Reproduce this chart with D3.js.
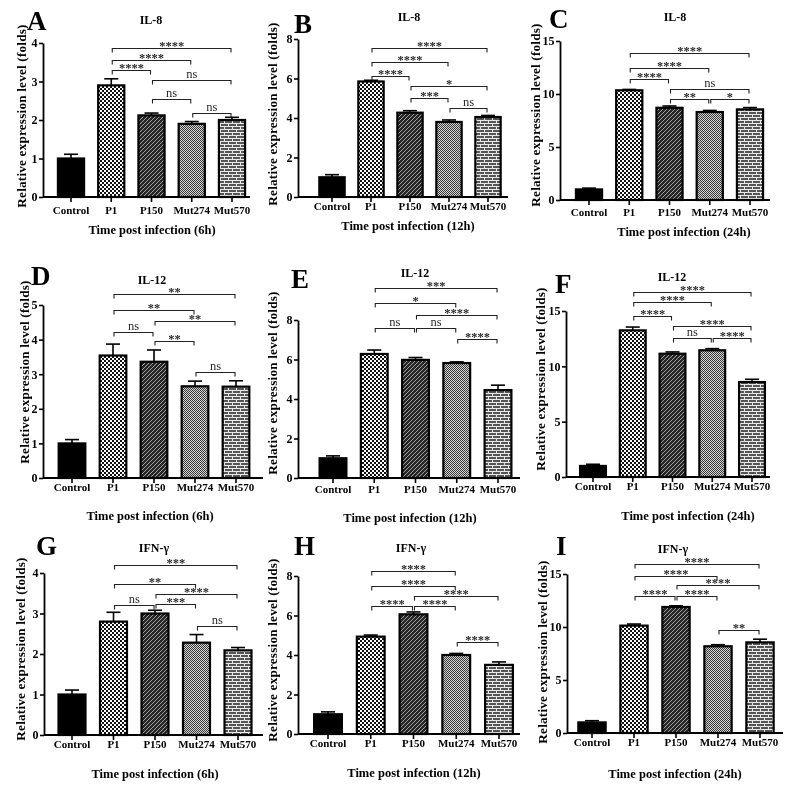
<!DOCTYPE html>
<html><head><meta charset="utf-8">
<script src="https://cdn.jsdelivr.net/npm/d3@7"></script>
<style>
body{margin:0;background:#fff}
svg{display:block;will-change:transform}
text{font-family:"Liberation Serif","Times New Roman",serif;}
</style>
</head><body>
<svg id="c" width="800" height="790"></svg>
<script>
// ---------------- DATA ----------------
const categories = ["Control", "P1", "P150", "Mut274", "Mut570"];
const panelLetters = ["A", "B", "C", "D", "E", "F", "G", "H", "I"];
const panelTitles = ["IL-8", "IL-8", "IL-8", "IL-12", "IL-12", "IL-12", "IFN-γ", "IFN-γ", "IFN-γ"];
const xTitles = ["Time post infection (6h)", "Time post infection (12h)", "Time post infection (24h)",
                 "Time post infection (6h)", "Time post infection (12h)", "Time post infection (24h)",
                 "Time post infection (6h)", "Time post infection (12h)", "Time post infection (24h)"];
const yTitle = "Relative expression level (folds)";

const meanA = [1.0, 2.9, 2.12, 1.9, 2.0];      const errA = [0.11, 0.17, 0.06, 0.06, 0.07];
const meanB = [1.0, 5.85, 4.27, 3.8, 4.05];    const errB = [0.13, 0.06, 0.1, 0.1, 0.08];
const meanC = [1.0, 10.35, 8.7, 8.3, 8.55];    const errC = [0.12, 0.08, 0.17, 0.15, 0.17];
const meanD = [1.0, 3.54, 3.36, 2.65, 2.64];   const errD = [0.11, 0.33, 0.34, 0.15, 0.17];
const meanE = [1.0, 6.28, 5.98, 5.82, 4.45];   const errE = [0.12, 0.2, 0.12, 0.06, 0.25];
const meanF = [1.0, 13.25, 11.14, 11.45, 8.58]; const errF = [0.15, 0.3, 0.16, 0.15, 0.25];
const meanG = [1.0, 2.8, 3.0, 2.28, 2.09];     const errG = [0.11, 0.23, 0.08, 0.2, 0.07];
const meanH = [1.0, 4.93, 6.06, 4.0, 3.5];     const errH = [0.12, 0.08, 0.12, 0.08, 0.15];
const meanI = [1.0, 10.13, 11.89, 8.18, 8.55]; const errI = [0.16, 0.15, 0.11, 0.15, 0.3];

const ticksA = [0, 1, 2, 3, 4];
const ticksB = [0, 2, 4, 6, 8];
const ticksC = [0, 5, 10, 15];
const ticksD = [0, 1, 2, 3, 4, 5];
const ticksE = [0, 2, 4, 6, 8];
const ticksF = [0, 5, 10, 15];
const ticksG = [0, 1, 2, 3, 4];
const ticksH = [0, 2, 4, 6, 8];
const ticksI = [0, 5, 10, 15];

// significance brackets: [from, to, level, label]
const sigA = [["P1","Mut570",3.87,"****"],["P1","Mut274",3.56,"****"],["P1","P150",3.30,"****"],["P150","Mut570",3.04,"ns"],["P150","Mut274",2.55,"ns"],["Mut274","Mut570",2.18,"ns"]];
const sigB = [["P1","Mut570",7.54,"****"],["P1","Mut274",6.84,"****"],["P1","P150",6.13,"****"],["P150","Mut570",5.62,"*"],["P150","Mut274",5.0,"***"],["Mut274","Mut570",4.5,"ns"]];
const sigC = [["P1","Mut570",13.9,"****"],["P1","Mut274",12.5,"****"],["P1","P150",11.4,"****"],["P150","Mut570",10.45,"ns"],["P150","Mut274",9.5,"**"],["Mut274","Mut570",9.5,"*"]];
const sigD = [["P1","Mut570",5.32,"**"],["P1","Mut274",4.86,"**"],["P150","Mut570",4.54,"**"],["P1","P150",4.23,"ns"],["P150","Mut274",3.97,"**"],["Mut274","Mut570",3.05,"ns"]];
const sigE = [["P1","Mut570",9.6,"***"],["P1","Mut274",8.85,"*"],["P150","Mut570",8.25,"****"],["P1","P150",7.6,"ns"],["P150","Mut274",7.6,"ns"],["Mut274","Mut570",7.02,"****"]];
const sigF = [["P1","Mut570",16.7,"****"],["P1","Mut274",15.84,"****"],["P1","P150",14.57,"****"],["P150","Mut570",13.64,"****"],["P150","Mut274",12.53,"ns"],["Mut274","Mut570",12.53,"****"]];
const sigG = [["P1","Mut570",4.19,"***"],["P1","Mut274",3.74,"**"],["P150","Mut570",3.47,"****"],["P1","P150",3.2,"ns"],["P150","Mut274",3.24,"***"],["Mut274","Mut570",2.68,"ns"]];
const sigH = [["P1","Mut274",8.27,"****"],["P1","Mut274",7.51,"****"],["P150","Mut570",7.0,"****"],["P1","P150",6.48,"****"],["P150","Mut274",6.48,"****"],["Mut274","Mut570",4.67,"****"]];
const sigI = [["P1","Mut570",15.94,"****"],["P1","Mut274",14.77,"****"],["P150","Mut570",13.92,"****"],["P1","P150",12.89,"****"],["P150","Mut274",12.89,"****"],["Mut274","Mut570",9.75,"**"]];

const means = [meanA, meanB, meanC, meanD, meanE, meanF, meanG, meanH, meanI];
const errs  = [errA, errB, errC, errD, errE, errF, errG, errH, errI];
const ticks = [ticksA, ticksB, ticksC, ticksD, ticksE, ticksF, ticksG, ticksH, ticksI];
const sigs  = [sigA, sigB, sigC, sigD, sigE, sigF, sigG, sigH, sigI];

// ---------------- LAYOUT ----------------
const layout = [
 {x0:43,x1:250,c0:71,c4:232,y0:197,yT:43,lx:27,ly:30,tx:151,ty:23.5,tickY:214,xtx:152,xty:234,ytx:21,yty:116},
 {x0:298,x1:508,c0:332,c4:488,y0:197,yT:39,lx:294,ly:33,tx:409,ty:21,tickY:209,xtx:408,xty:230,ytx:272,yty:114},
 {x0:560,x1:770,c0:589,c4:750,y0:200,yT:41,lx:549,ly:28,tx:675,ty:21,tickY:216,xtx:684,xty:236,ytx:535,yty:115},
 {x0:43,x1:263,c0:72,c4:236,y0:478,yT:305,lx:31,ly:285,tx:152,ty:284,tickY:491,xtx:150,xty:520,ytx:24,yty:372},
 {x0:298,x1:520,c0:333,c4:498,y0:478,yT:320,lx:291,ly:288,tx:415,ty:277,tickY:493,xtx:410,xty:522,ytx:272,yty:383},
 {x0:566,x1:770,c0:593,c4:752,y0:477,yT:311,lx:555,ly:293,tx:672,ty:281,tickY:490,xtx:688,xty:520,ytx:540,yty:379},
 {x0:44,x1:263,c0:72,c4:238,y0:735,yT:573,lx:36,ly:555,tx:154,ty:552,tickY:746,xtx:155,xty:778,ytx:20,yty:649},
 {x0:298,x1:520,c0:328,c4:499,y0:734,yT:576,lx:294,ly:555,tx:411,ty:552,tickY:744,xtx:414,xty:777,ytx:272,yty:650},
 {x0:567,x1:783,c0:592,c4:760,y0:733,yT:574,lx:556,ly:555,tx:673,ty:553,tickY:743,xtx:675,xty:778,ytx:542,yty:652}
];

// ---------------- DRAW ----------------
const svg = d3.select("#c");
svg.append("rect").attr("width", 800).attr("height", 790).attr("fill", "#fff");
const defs = svg.append("defs");
function pattern(id, w, h, draw) {
  const p = defs.append("pattern").attr("id", id).attr("patternUnits", "userSpaceOnUse")
    .attr("width", w).attr("height", h);
  draw(p);
}
pattern("pP1", 4, 4, p => {
  p.append("rect").attr("width", 4).attr("height", 4).attr("fill", "#fff");
  p.append("rect").attr("width", 2).attr("height", 2).attr("fill", "#111");
  p.append("rect").attr("x", 2).attr("y", 2).attr("width", 2).attr("height", 2).attr("fill", "#111");
});
pattern("pP150", 4, 4, p => {
  p.append("rect").attr("width", 4).attr("height", 4).attr("fill", "#262626");
  p.append("path").attr("d", "M-1,1L1,-1M0,4L4,0M3,5L5,3").attr("stroke", "#a0a0a0").attr("stroke-width", 1);
});
pattern("pM274", 2, 2, p => {
  p.append("rect").attr("width", 2).attr("height", 2).attr("fill", "#d4d4d4");
  p.append("rect").attr("width", 1).attr("height", 1).attr("fill", "#3a3a3a");
  p.append("rect").attr("x", 1).attr("y", 1).attr("width", 1).attr("height", 1).attr("fill", "#3a3a3a");
});
pattern("pM570", 8, 6, p => {
  p.append("rect").attr("width", 8).attr("height", 6).attr("fill", "#555");
  p.append("path").attr("d", "M0,0.5H8M0,3.5H8M0.5,0V3M4.5,3V6").attr("stroke", "#e8e8e8").attr("stroke-width", 1);
});
const fills = ["#000", "url(#pP1)", "url(#pP150)", "url(#pM274)", "url(#pM570)"];

layout.forEach((L, i) => {
  const mean = means[i], err = errs[i], tk = ticks[i], sig = sigs[i];
  const step = (L.c4 - L.c0) / 4;
  const x = d3.scaleBand().domain(categories)
    .range([L.c0 - step / 2, L.c4 + step / 2]).paddingInner(0.35).paddingOuter(0.175);
  const y = d3.scaleLinear().domain([0, tk[tk.length - 1]]).range([L.y0, L.yT]);
  const cx = c => x(c) + x.bandwidth() / 2;
  const g = svg.append("g");

  // error bars
  const eb = g.append("g").attr("stroke", "#000").attr("stroke-width", 1.6);
  categories.forEach((c, j) => {
    eb.append("line").attr("x1", cx(c)).attr("x2", cx(c)).attr("y1", y(mean[j])).attr("y2", y(mean[j] + err[j]));
    eb.append("line").attr("x1", cx(c) - 7).attr("x2", cx(c) + 7).attr("y1", y(mean[j] + err[j])).attr("y2", y(mean[j] + err[j]));
  });

  // bars
  g.selectAll("rect.bar").data(categories).join("rect").attr("class", "bar")
    .attr("x", d => x(d)).attr("width", x.bandwidth())
    .attr("y", (d, j) => y(mean[j])).attr("height", (d, j) => y(0) - y(mean[j]))
    .attr("fill", (d, j) => fills[j]).attr("stroke", "#000").attr("stroke-width", 2.2);

  // y axis
  const ya = g.append("g").attr("transform", `translate(${L.x0},0)`)
    .call(d3.axisLeft(y).tickValues(tk).tickFormat(d3.format("d")).tickSize(4).tickSizeOuter(0).tickPadding(1.5));
  ya.select(".domain").attr("stroke-width", 1.8);
  ya.selectAll(".tick line").attr("stroke-width", 1.6);
  ya.selectAll("text").attr("font-size", 12).attr("font-weight", "bold")
    .attr("font-family", '"Liberation Serif", serif').attr("fill", "#000");

  // x axis
  const xa = g.append("g").attr("transform", `translate(0,${L.y0})`)
    .call(d3.axisBottom(x).tickSize(5).tickSizeOuter(0).tickPadding(Math.max(0, L.tickY - L.y0 - 5 - 7.8)));
  xa.select(".domain").remove();
  xa.append("line").attr("x1", L.x0).attr("x2", L.x1).attr("stroke", "#000").attr("stroke-width", 1.8);
  xa.selectAll(".tick line").attr("stroke-width", 1.6);
  xa.selectAll("text").attr("font-size", 11).attr("font-weight", "bold")
    .attr("font-family", '"Liberation Serif", serif').attr("fill", "#000");

  // significance brackets
  const sg = g.append("g");
  sig.forEach(s => {
    const xa1 = cx(s[0]) + 1, xb1 = cx(s[1]) - 1, yy = Math.round(y(s[2])) + 0.5;
    sg.append("path").attr("d", `M${xa1},${yy + 4}V${yy}H${xb1}V${yy + 4}`)
      .attr("fill", "none").attr("stroke", "#222").attr("stroke-width", 1.1);
    const ns = s[3] === "ns";
    sg.append("text").attr("x", (xa1 + xb1) / 2).attr("y", ns ? yy - 3 : yy + 1)
      .attr("text-anchor", "middle").attr("font-size", 12.5)
      .attr("font-weight", ns ? "normal" : "bold").attr("fill", "#2a2a2a")
      .text(s[3]);
  });

  // texts
  g.append("text").attr("x", L.lx).attr("y", L.ly).attr("font-size", 27).attr("font-weight", "bold").text(panelLetters[i]);
  g.append("text").attr("x", L.tx).attr("y", L.ty).attr("text-anchor", "middle").attr("font-size", 12)
    .attr("font-weight", "bold").text(panelTitles[i]);
  g.append("text").attr("x", L.xtx).attr("y", L.xty).attr("text-anchor", "middle").attr("font-size", 12.5)
    .attr("font-weight", "bold").text(xTitles[i]);
  g.append("text").attr("transform", `translate(${L.ytx},${L.yty}) rotate(-90)`).attr("dy", "0.35em")
    .attr("text-anchor", "middle").attr("font-size", 13.2).attr("font-weight", "bold")
    .attr("letter-spacing", 0.2).text(yTitle);
});
</script>
</body></html>
